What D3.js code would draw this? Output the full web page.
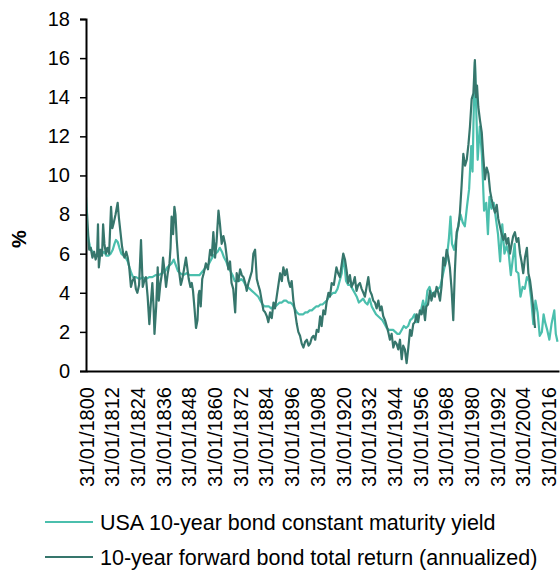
<!DOCTYPE html>
<html>
<head>
<meta charset="utf-8">
<script src="https://cdn.jsdelivr.net/npm/d3@7"></script>
<style>
  html, body { margin: 0; padding: 0; background: #fff; }
  svg { display: block; font-family: "Liberation Sans", Arial, sans-serif; }
</style>
</head>
<body>
<svg id="chart" width="560" height="571"></svg>
<script>
// ---------- DATA ----------
const seriesNames = [
  "USA 10-year bond constant maturity yield",
  "10-year forward bond total return (annualized)"
];
const seriesColors = ["#4bbfad", "#36766c"];

const xTickYears = [1800,1812,1824,1836,1848,1860,1872,1884,1896,1908,1920,1932,1944,1956,1968,1980,1992,2004,2016];
const xTickLabels = ["31/01/1800","31/01/1812","31/01/1824","31/01/1836","31/01/1848","31/01/1860","31/01/1872","31/01/1884","31/01/1896","31/01/1908","31/01/1920","31/01/1932","31/01/1944","31/01/1956","31/01/1968","31/01/1980","31/01/1992","31/01/2004","31/01/2016"];
const yTicks = [0,2,4,6,8,10,12,14,16,18];
const yAxisTitle = "%";

// USA 10-year bond constant maturity yield
const yieldYears = [1800.0,1800.5,1801.0,1801.8,1802.5,1803.5,1804.5,1805.5,1806.5,1807.5,1808.5,1809.5,1810.5,1811.5,1812.5,1813.3,1814.0,1814.8,1815.6,1816.5,1817.5,1818.5,1819.5,1820.3,1821.2,1822.0,1823.4,1825.0,1826.5,1828.0,1829.5,1831.0,1832.5,1834.0,1835.5,1837.0,1838.0,1839.0,1840.0,1841.0,1842.0,1843.0,1844.0,1845.5,1847.0,1848.5,1850.0,1851.5,1853.0,1854.5,1856.0,1857.5,1858.5,1859.5,1860.5,1861.5,1862.5,1863.5,1864.5,1865.5,1866.5,1867.5,1868.5,1869.5,1870.5,1871.5,1872.5,1873.5,1874.5,1875.5,1876.5,1877.5,1878.5,1879.5,1880.5,1881.5,1882.5,1883.5,1884.5,1885.5,1886.5,1887.5,1888.5,1889.5,1890.5,1891.5,1892.5,1893.5,1894.5,1895.5,1896.5,1897.5,1898.5,1899.5,1900.5,1901.5,1902.5,1903.5,1904.5,1905.5,1906.5,1907.5,1908.5,1909.5,1910.5,1911.5,1912.5,1913.5,1914.5,1915.5,1916.5,1917.5,1918.5,1919.5,1920.0,1920.5,1921.0,1921.5,1922.5,1923.5,1924.5,1925.5,1926.5,1927.5,1928.5,1929.5,1930.5,1931.5,1932.5,1933.5,1934.5,1935.5,1936.5,1937.5,1938.5,1939.5,1940.5,1941.5,1942.5,1943.5,1944.5,1945.5,1946.5,1947.5,1948.5,1949.5,1950.5,1951.5,1952.5,1953.5,1954.5,1955.5,1956.5,1957.5,1958.5,1959.5,1960.5,1961.5,1962.5,1963.5,1964.5,1965.5,1966.5,1967.5,1968.5,1969.5,1970.3,1971.0,1972.0,1973.0,1974.0,1975.0,1976.0,1977.0,1978.0,1979.0,1980.0,1980.6,1981.0,1981.7,1982.3,1983.0,1984.0,1985.0,1986.0,1987.0,1987.8,1988.5,1989.5,1990.5,1991.5,1992.5,1993.5,1994.5,1995.5,1996.5,1997.5,1998.5,1999.5,2000.3,2001.0,2002.0,2003.0,2004.0,2005.0,2006.0,2007.0,2008.0,2009.0,2010.0,2011.0,2012.0,2013.0,2013.8,2014.5,2015.5,2016.5,2017.5,2018.8,2019.5,2020.3];
const yieldValues = [7.5,7.3,6.8,6.4,6.2,6.0,5.9,6.0,6.2,6.0,6.1,5.9,5.9,6.0,6.2,6.5,6.7,6.6,6.3,6.0,5.9,5.8,5.6,5.3,5.0,4.8,4.8,4.7,4.8,4.7,4.8,4.8,4.9,4.9,5.0,5.1,5.3,5.4,5.5,5.7,5.4,5.1,5.0,4.9,5.0,4.9,4.9,4.9,4.9,5.1,5.3,5.5,5.7,5.9,6.0,6.1,6.3,6.1,5.8,5.6,5.3,5.1,4.9,4.6,4.6,4.6,4.7,4.6,4.4,4.3,4.2,4.1,4.0,3.9,3.8,3.6,3.4,3.3,3.3,3.3,3.2,3.3,3.3,3.4,3.5,3.5,3.6,3.6,3.5,3.5,3.4,3.2,3.0,2.9,2.9,2.9,3.0,3.0,3.1,3.1,3.2,3.3,3.3,3.4,3.4,3.5,3.6,3.8,3.9,4.0,4.0,4.2,4.6,5.0,5.7,5.6,5.2,4.6,4.4,4.4,4.2,4.0,3.8,3.5,3.6,3.7,3.5,3.4,3.7,3.3,3.1,2.9,2.8,2.7,2.6,2.4,2.2,2.1,2.1,2.1,2.0,1.9,1.9,2.1,2.3,2.2,2.3,2.6,2.7,2.9,2.5,2.8,3.1,3.6,3.1,4.1,4.3,3.9,4.0,4.1,4.2,4.3,4.8,5.3,5.7,6.7,7.9,6.5,6.2,6.8,7.5,8.0,7.6,7.4,8.4,9.3,11.5,10.2,12.5,15.8,13.5,10.8,12.5,11.0,8.2,8.6,7.0,8.9,8.3,8.6,7.8,7.0,5.6,7.5,6.0,6.4,6.0,4.9,5.8,6.5,5.1,5.0,3.8,4.3,4.2,4.8,4.6,3.7,2.4,3.6,3.0,1.8,2.0,2.9,2.5,2.1,1.6,2.4,3.1,1.9,1.5];

// 10-year forward bond total return (annualized)
const returnYears = [1800.0,1800.5,1801.0,1801.5,1802.2,1803.0,1803.8,1804.5,1805.2,1805.6,1806.0,1806.8,1807.5,1808.0,1808.6,1809.3,1810.0,1810.8,1811.7,1812.3,1813.0,1813.8,1814.8,1815.4,1816.0,1816.8,1817.4,1818.0,1818.8,1819.5,1820.2,1821.0,1821.7,1822.6,1823.3,1824.0,1824.8,1825.7,1826.5,1827.2,1828.0,1828.8,1829.6,1830.3,1831.0,1831.6,1832.0,1832.8,1833.5,1834.0,1834.8,1835.5,1836.0,1836.8,1837.4,1838.2,1839.0,1839.5,1840.0,1840.7,1841.3,1841.8,1842.4,1843.0,1843.6,1844.3,1845.0,1845.8,1846.7,1847.3,1848.0,1848.8,1849.4,1850.0,1850.7,1851.4,1852.1,1852.6,1853.0,1853.6,1854.3,1855.0,1856.0,1857.0,1858.0,1858.8,1859.5,1860.3,1861.0,1861.9,1862.6,1863.4,1864.2,1865.0,1865.8,1866.5,1867.3,1868.0,1868.8,1869.7,1870.4,1871.2,1872.0,1872.8,1873.6,1874.4,1875.1,1875.9,1876.7,1877.5,1878.2,1879.0,1879.8,1880.5,1881.3,1882.1,1882.9,1883.7,1884.5,1885.2,1886.0,1886.8,1887.6,1888.3,1889.1,1889.9,1890.7,1891.5,1892.2,1893.0,1893.8,1894.6,1895.4,1896.1,1896.9,1897.7,1898.5,1899.2,1900.0,1900.8,1901.6,1902.4,1903.2,1904.0,1904.7,1905.5,1906.3,1907.1,1907.8,1908.6,1909.4,1910.1,1910.9,1911.7,1912.4,1913.3,1914.0,1914.8,1915.8,1917.0,1917.8,1918.6,1919.4,1920.2,1921.0,1921.7,1922.5,1923.3,1924.1,1924.9,1925.6,1926.4,1927.2,1928.0,1928.8,1929.6,1930.3,1931.1,1931.9,1932.7,1933.5,1934.2,1935.0,1935.8,1936.6,1937.4,1938.1,1938.9,1939.7,1940.5,1941.2,1942.0,1942.8,1943.6,1944.4,1945.1,1945.9,1946.7,1947.5,1948.2,1949.0,1949.8,1950.6,1951.4,1952.1,1952.9,1953.7,1954.5,1955.2,1956.0,1956.8,1957.6,1958.4,1959.0,1959.8,1960.7,1961.4,1962.3,1963.0,1963.8,1964.6,1965.4,1966.2,1966.9,1967.7,1968.5,1969.3,1970.0,1970.8,1971.6,1972.3,1973.2,1974.0,1974.7,1975.5,1976.3,1977.1,1977.9,1978.7,1979.4,1980.2,1981.0,1981.7,1982.2,1982.7,1983.3,1984.1,1984.9,1985.6,1986.4,1987.2,1988.0,1988.8,1989.5,1990.3,1991.1,1991.9,1992.6,1993.4,1994.2,1995.0,1995.8,1996.5,1997.3,1998.1,1998.9,1999.6,2000.4,2001.2,2002.0,2002.8,2003.5,2004.3,2005.1,2006.0,2006.7,2007.5,2008.2,2009.0,2009.8];
const returnValues = [8.9,8.0,7.0,6.2,6.3,5.8,6.1,5.7,6.0,7.5,5.3,6.2,5.9,7.5,6.5,6.0,6.3,6.0,8.4,7.3,7.6,8.0,8.6,7.8,7.2,6.4,6.0,5.8,6.1,5.8,5.3,4.3,4.6,4.8,4.2,4.0,4.4,6.7,4.3,4.6,4.8,3.8,2.4,3.5,4.5,3.2,1.9,3.3,5.3,3.6,4.5,5.0,5.8,5.0,4.3,5.0,5.5,6.3,7.9,7.0,8.4,8.0,6.7,5.8,5.0,4.4,4.7,5.2,5.8,5.3,4.7,4.3,4.5,4.1,3.2,2.2,2.6,3.9,4.1,3.3,4.7,5.0,5.5,5.2,6.2,5.9,7.1,5.8,6.6,8.2,7.5,6.5,6.9,6.5,5.8,5.2,5.6,4.5,4.2,3.0,5.0,4.6,5.2,4.9,4.8,4.5,4.1,4.5,4.8,5.1,6.0,6.2,4.7,4.4,4.1,3.6,3.1,3.0,2.8,2.5,3.0,2.7,3.5,3.2,3.8,4.4,5.0,4.6,5.3,4.9,5.2,4.6,4.3,4.6,3.6,3.0,2.4,2.0,1.8,1.4,1.2,1.5,1.6,1.3,1.4,1.7,1.8,1.6,2.1,2.0,2.8,2.3,3.1,2.9,3.5,4.0,3.8,4.5,4.4,5.3,5.0,4.8,5.4,6.0,5.7,5.2,4.5,4.9,4.3,4.5,4.8,4.1,4.4,4.5,4.2,4.0,3.8,4.3,4.8,4.1,3.9,3.6,3.5,3.2,3.6,3.1,3.3,2.8,2.6,2.3,2.0,1.6,1.9,1.2,1.5,1.4,1.1,1.6,0.6,1.3,1.1,0.4,1.2,2.1,1.8,2.4,2.5,2.9,2.5,3.1,2.9,3.3,2.6,3.3,3.4,4.1,3.6,4.0,3.8,4.3,4.0,3.6,4.4,5.8,5.4,6.2,5.8,5.3,4.2,2.6,5.0,7.1,7.4,8.1,9.5,11.1,10.5,10.8,11.6,12.5,13.9,14.2,15.9,14.0,14.6,13.5,12.8,12.2,11.0,9.8,10.4,10.1,9.2,8.8,8.4,8.1,8.5,7.8,7.4,7.0,6.7,7.0,6.5,6.8,6.0,6.5,6.9,7.1,6.6,6.8,6.0,5.6,5.0,5.8,6.3,5.0,4.6,4.0,3.2,2.2];

// ---------- LAYOUT ----------
const svg = d3.select("#chart");
const plot = { left: 86, right: 559, top: 19, bottom: 371 };

const x = d3.scaleLinear().domain([1800, 2021]).range([plot.left, plot.right]);
const y = d3.scaleLinear().domain([0, 18]).range([plot.bottom, plot.top]);

// Y axis
const yAxis = d3.axisLeft(y).tickValues(yTicks).tickSize(6).tickPadding(10).tickFormat(d3.format("d"));
const gy = svg.append("g").attr("transform", `translate(${plot.left},0)`).call(yAxis);
gy.select(".domain").attr("stroke", "#000").attr("stroke-width", 2);
gy.selectAll(".tick line").attr("stroke", "#000").attr("stroke-width", 1.5);
gy.selectAll(".tick text").attr("font-size", 20).attr("fill", "#000")
  .attr("font-family", "'Liberation Sans', Arial, sans-serif");

// X axis
const labelByYear = new Map(xTickYears.map((yr, i) => [yr, xTickLabels[i]]));
const xAxis = d3.axisBottom(x).tickValues(xTickYears).tickSize(0).tickPadding(0)
  .tickFormat(d => labelByYear.get(d));
const gx = svg.append("g").attr("transform", `translate(0,${plot.bottom})`).call(xAxis);
gx.select(".domain").attr("stroke", "#000").attr("stroke-width", 2);
gx.selectAll(".tick text")
  .attr("font-size", 20).attr("fill", "#000")
  .attr("font-family", "'Liberation Sans', Arial, sans-serif")
  .attr("text-anchor", "end")
  .attr("transform", "rotate(-90)")
  .attr("x", -16).attr("y", 0).attr("dy", "0.36em");

// Y axis title
svg.append("text")
  .attr("transform", `translate(${26},${239}) rotate(-90)`)
  .attr("text-anchor", "middle")
  .attr("font-size", 20).attr("font-weight", "bold")
  .text(yAxisTitle);

// Lines
svg.append("clipPath").attr("id", "clip").append("rect")
  .attr("x", plot.left + 1).attr("y", 0).attr("width", plot.right - plot.left).attr("height", plot.bottom - 1);

const line = d3.line().x(d => x(d[0])).y(d => y(d[1]));
const yieldData = yieldYears.map((yr, i) => [yr, yieldValues[i]]);
const returnData = returnYears.map((yr, i) => [yr, returnValues[i]]);

svg.append("path").datum(yieldData)
  .attr("clip-path", "url(#clip)")
  .attr("fill", "none").attr("stroke", seriesColors[0]).attr("stroke-width", 2.2)
  .attr("stroke-linejoin", "round").attr("d", line);
svg.append("path").datum(returnData)
  .attr("clip-path", "url(#clip)")
  .attr("fill", "none").attr("stroke", seriesColors[1]).attr("stroke-width", 2.2)
  .attr("stroke-linejoin", "round").attr("d", line);

// Legend
const legend = svg.append("g");
const legendY = [522, 557];
seriesNames.forEach((name, i) => {
  legend.append("line")
    .attr("x1", 45).attr("x2", 93).attr("y1", legendY[i]).attr("y2", legendY[i])
    .attr("stroke", seriesColors[i]).attr("stroke-width", 2);
  legend.append("text")
    .attr("x", 100).attr("y", legendY[i]).attr("dy", "0.35em")
    .attr("font-size", 21.5).attr("fill", "#000")
    .text(name);
});
</script>
</body>
</html>
